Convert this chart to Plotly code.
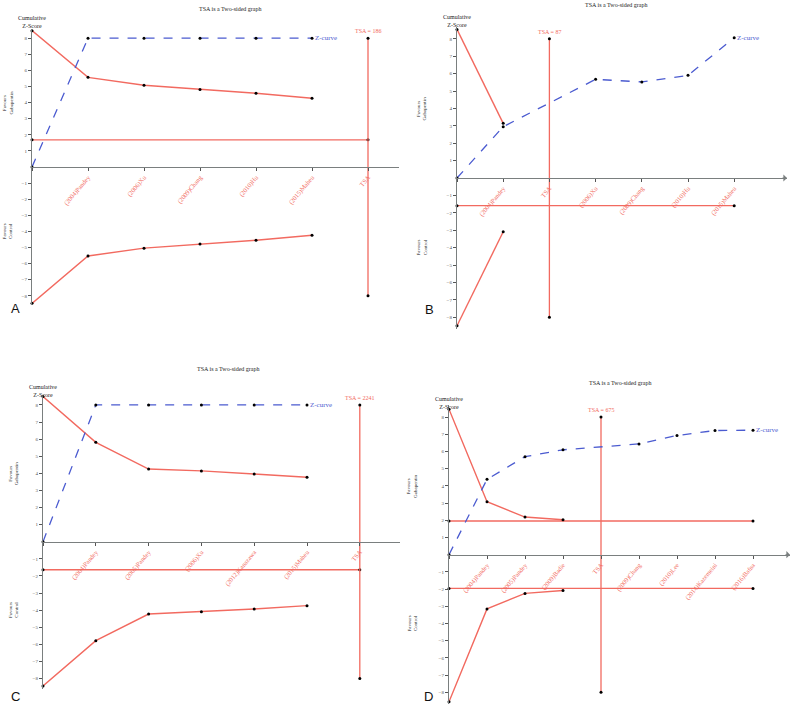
import plotly.graph_objects as go

W, H = 800, 705

# ---- panel A ----
a_labels = ["(2004)Pandey", "(2006)Xu", "(2009)Chang", "(2010)Hu", "(2015)Maheu", "TSA"]
a_upper = [8.47, 5.57, 5.08, 4.82, 4.58, 4.27]
a_lower = [-8.47, -5.53, -5.04, -4.78, -4.55, -4.24]
a_z_pos = [0, 1, 2, 3, 4, 5]
a_z = [0, 8, 8, 8, 8, 8]
a_hline = 1.69
a_tsa_pos = 6
a_tsa_text = "TSA = 186"

# ---- panel B ----
b_labels = ["(2004)Pandey", "TSA", "(2006)Xu", "(2009)Chang", "(2010)Hu", "(2015)Maheu"]
b_upper = [8.54, 3.14]
b_lower = [-8.49, -3.09]
b_z_pos = [0, 1, 3, 4, 5, 6]
b_z = [0, 2.95, 5.67, 5.52, 5.9, 8.06]
b_hline = -1.59
b_tsa_pos = 2
b_tsa_text = "TSA = 87"

# ---- panel C ----
c_labels = ["(2004)Pandey", "(2005)Pandey", "(2006)Xu", "(2012)Kanazawa", "(2015)Maheu", "TSA"]
c_upper = [8.49, 5.81, 4.25, 4.14, 3.96, 3.77]
c_lower = [-8.44, -5.79, -4.23, -4.09, -3.94, -3.74]
c_z_pos = [0, 1, 2, 3, 4, 5]
c_z = [0, 8, 8, 8, 8, 8]
c_hline = -1.64
c_tsa_pos = 6
c_tsa_text = "TSA = 2241"

# ---- panel D ----
d_labels = ["(2004)Pandey", "(2005)Pandey", "(2009)Badie", "TSA", "(2009)Chang",
            "(2010)Lee", "(2014)Kazemeini", "(2016)Bafna"]
d_upper = [8.46, 3.08, 2.19, 2.03]
d_lower = [-8.55, -3.15, -2.25, -2.08]
d_z_pos = [0, 1, 2, 3, 5, 6, 7, 8]
d_z = [0, 4.38, 5.7, 6.1, 6.44, 6.93, 7.22, 7.24]
d_hlines = [1.96, -1.96]
d_tsa_pos = 4
d_tsa_text = "TSA = 675"

# pixel geometry of each panel (origin x, spacing, right end, zero y, px per unit, y half range)
geo = {
    "A": dict(x0=32, step=56, xr=399, y0=167, unit=16.1, yh=8.6, ax="", arrow=False,
              title=(230, 9), letter=(9, 308), fav_x=8, top_lbl=(32, 22)),
    "B": dict(x0=457, step=46.2, xr=787, y0=178, unit=17.4, yh=8.7, ax="2", arrow=True,
              title=(616, 5), letter=(423, 309), fav_x=422, top_lbl=(457, 21)),
    "C": dict(x0=43, step=52.8, xr=400, y0=541.7, unit=17.1, yh=8.6, ax="3", arrow=False,
              title=(228, 369), letter=(9, 696), fav_x=14, top_lbl=(43, 391)),
    "D": dict(x0=449, step=38, xr=790, y0=554.7, unit=17.2, yh=8.7, ax="4", arrow=True,
              title=(620, 383), letter=(422, 696), fav_x=412, top_lbl=(449, 403)),
}

panels = {
    "A": dict(labels=a_labels, upper=a_upper, lower=a_lower, zx=a_z_pos, z=a_z,
              hlines=[a_hline], tsa=a_tsa_pos, tsa_text=a_tsa_text),
    "B": dict(labels=b_labels, upper=b_upper, lower=b_lower, zx=b_z_pos, z=b_z,
              hlines=[b_hline], tsa=b_tsa_pos, tsa_text=b_tsa_text),
    "C": dict(labels=c_labels, upper=c_upper, lower=c_lower, zx=c_z_pos, z=c_z,
              hlines=[c_hline], tsa=c_tsa_pos, tsa_text=c_tsa_text),
    "D": dict(labels=d_labels, upper=d_upper, lower=d_lower, zx=d_z_pos, z=d_z,
              hlines=d_hlines, tsa=d_tsa_pos, tsa_text=d_tsa_text),
}

RED = "#f26a60"
BLUE = "#4b5bd0"
SERIF = "Liberation Serif"

fig = go.Figure()
annotations = []
layout_axes = {}


def px(x):
    return x / W


def py(y):
    return 1 - y / H


for key, p in panels.items():
    g = geo[key]
    ax = g["ax"]
    xa, ya = "x" + ax, "y" + ax
    xmax = (g["xr"] - g["x0"]) / g["step"]
    ytop = g["y0"] - g["yh"] * g["unit"]
    ybot = g["y0"] + g["yh"] * g["unit"]
    n = len(p["labels"])

    layout_axes["xaxis" + ax] = dict(
        domain=[px(g["x0"]), px(g["xr"])], range=[0, xmax], anchor="free",
        position=py(g["y0"]), showline=True, linecolor="#7a7f7f", linewidth=1.2,
        showgrid=False, zeroline=False, ticks="outside", ticklen=3, tickcolor="#555",
        tickvals=list(range(0, n + 1)), ticktext=[""] + p["labels"],
        tickangle=-50, tickfont=dict(family=SERIF, size=6.5, color=RED),
    )
    layout_axes["yaxis" + ax] = dict(
        domain=[py(ybot), py(ytop)], range=[-g["yh"], g["yh"]], anchor=xa,
        showline=True, linecolor="#7a7f7f", linewidth=1.2, showgrid=False, zeroline=False,
        ticks="outside", ticklen=3, tickcolor="#555",
        tickvals=[v for v in range(-8, 9) if v != 0],
        tickfont=dict(family=SERIF, size=5, color="#555"),
    )

    mk = dict(color="black", size=3)
    # horizontal boundary lines
    for h in p["hlines"]:
        last = max(p["tsa"], p["zx"][-1])
        fig.add_trace(go.Scatter(x=[0, last], y=[h, h], mode="lines+markers", xaxis=xa, yaxis=ya,
                                 line=dict(color=RED, width=1.3), marker=mk, cliponaxis=False))
    # TSA vertical line
    fig.add_trace(go.Scatter(x=[p["tsa"], p["tsa"]], y=[8, -8], mode="lines+markers", xaxis=xa, yaxis=ya,
                             line=dict(color=RED, width=1.3), marker=mk, cliponaxis=False))
    # monitoring boundaries
    bx = list(range(len(p["upper"])))
    fig.add_trace(go.Scatter(x=bx, y=p["upper"], mode="lines+markers", xaxis=xa, yaxis=ya,
                             line=dict(color=RED, width=1.4), marker=mk, cliponaxis=False))
    fig.add_trace(go.Scatter(x=bx, y=p["lower"], mode="lines+markers", xaxis=xa, yaxis=ya,
                             line=dict(color=RED, width=1.4), marker=mk, cliponaxis=False))
    # Z-curve
    fig.add_trace(go.Scatter(x=p["zx"], y=p["z"], mode="lines+markers", xaxis=xa, yaxis=ya,
                             line=dict(color=BLUE, width=1.3, dash="dash"), marker=mk, cliponaxis=False))

    annotations.append(dict(x=p["zx"][-1], y=p["z"][-1], xref=xa, yref=ya, text="Z-curve",
                            showarrow=False, xanchor="left", xshift=1,
                            font=dict(family=SERIF, size=7, color=BLUE)))
    annotations.append(dict(x=p["tsa"], y=8, xref=xa, yref=ya, text=p["tsa_text"],
                            showarrow=False, xanchor="center", yanchor="bottom", yshift=2,
                            font=dict(family=SERIF, size=6, color=RED)))
    annotations.append(dict(x=px(g["title"][0]), y=py(g["title"][1]), xref="paper", yref="paper",
                            text="TSA is a Two-sided graph", showarrow=False,
                            xanchor="center", yanchor="middle",
                            font=dict(family=SERIF, size=6, color="#222")))
    annotations.append(dict(x=px(g["top_lbl"][0]), y=py(g["top_lbl"][1]), xref="paper", yref="paper",
                            text="Cumulative<br>Z-Score", showarrow=False,
                            xanchor="center", yanchor="middle",
                            font=dict(family=SERIF, size=6, color="#222")))
    annotations.append(dict(x=px(g["fav_x"]), y=py(g["y0"] - 4 * g["unit"]), xref="paper", yref="paper",
                            text="Favours<br>Gabapentin", showarrow=False, textangle=-90,
                            xanchor="center", yanchor="middle",
                            font=dict(family=SERIF, size=5, color="#222")))
    annotations.append(dict(x=px(g["fav_x"]), y=py(g["y0"] + 4 * g["unit"]), xref="paper", yref="paper",
                            text="Favours<br>Control", showarrow=False, textangle=-90,
                            xanchor="center", yanchor="middle",
                            font=dict(family=SERIF, size=5, color="#222")))
    annotations.append(dict(x=px(g["letter"][0]), y=py(g["letter"][1]), xref="paper", yref="paper",
                            text=key, showarrow=False, xanchor="left", yanchor="middle",
                            font=dict(family="Liberation Sans", size=13, color="#111")))
    if g["arrow"]:
        annotations.append(dict(x=px(g["xr"]), y=py(g["y0"]), xref="paper", yref="paper",
                                ax=-6, ay=0, text="", showarrow=True, arrowhead=1,
                                arrowsize=1.2, arrowwidth=1, arrowcolor="#7a7f7f"))

fig.update_layout(
    width=W, height=H, margin=dict(l=0, r=0, t=0, b=0),
    paper_bgcolor="white", plot_bgcolor="white", showlegend=False,
    annotations=annotations, **layout_axes,
)

# drop the default 8px page margin so the figure fills the window exactly
fig.write_html("out.html", config={"displayModeBar": False},
               post_script="document.body.style.margin='0';")
